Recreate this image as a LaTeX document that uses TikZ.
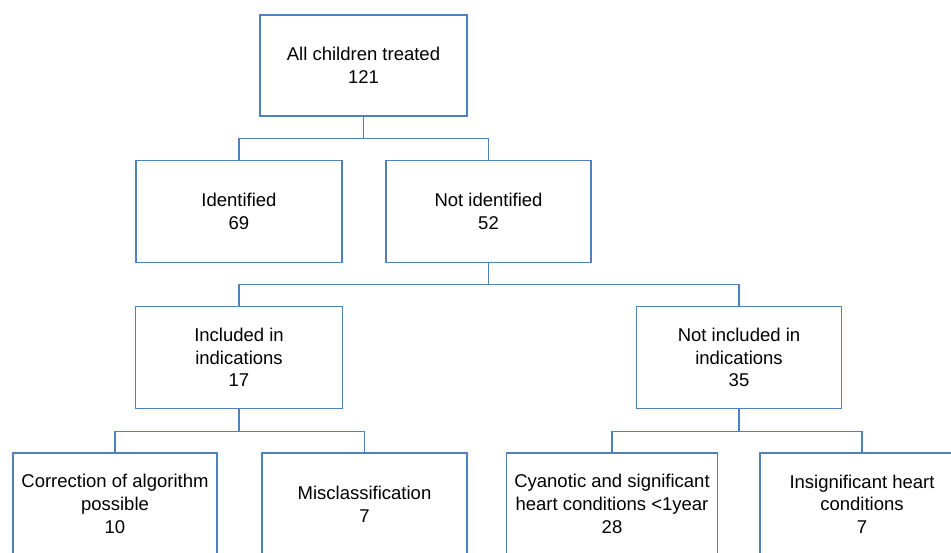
\documentclass[tikz,border=0pt]{standalone}
\usepackage{fontspec}
\setmainfont{Liberation Sans}
\definecolor{boxblue}{HTML}{4F81BD}
\begin{document}
\begin{tikzpicture}[x=1pt,y=-1pt,
  box/.style={draw=boxblue, line width=1.3pt, fill=white, inner sep=0pt, minimum width=206pt, minimum height=102pt, align=center, font=\fontsize{18.5}{22.7}\selectfont},
  conn/.style={draw=boxblue, line width=1.3pt}]
\useasboundingbox (0,0) rectangle (951,552);
\clip (0,0) rectangle (951,552);
\node[box, minimum width=207pt, minimum height=101pt] (top) at (363.5,65.5) {All children treated\\121};
\node[box] (ident) at (239,211.5) {Identified\\69};
\node[box, minimum width=205pt] (notid) at (488.5,211.5) {Not identified\\52};
\node[box, minimum width=207pt] (incl) at (239,357.5) {Included in\\indications\\17};
\node[box, minimum width=205pt] (notincl) at (739,357.5) {Not included in\\indications\\35};
\node[box, minimum width=204pt] (corr) at (115,504) {Correction of algorithm\\possible\\10};
\node[box, minimum width=205pt] (mis) at (364.5,504) {Misclassification\\7};
\node[box, minimum width=211pt] (cyan) at (612,504) {Cyanotic and significant\\heart conditions <1year\\28};
\node[box, minimum width=204pt] (insig) at (862,504) {Insignificant heart\\conditions\\7};
\draw[conn] (top.south) -- ++(0,22) coordinate (b1);
\draw[conn] (b1) -| (ident.north);
\draw[conn] (b1) -| (notid.north);
\draw[conn] (notid.south) -- ++(0,21.5) coordinate (b2);
\draw[conn] (b2) -| (incl.north);
\draw[conn] (b2) -| (notincl.north);
\draw[conn] (incl.south) -- ++(0,22) coordinate (b3);
\draw[conn] (b3) -| (corr.north);
\draw[conn] (b3) -| (mis.north);
\draw[conn] (notincl.south) -- ++(0,22) coordinate (b4);
\draw[conn] (b4) -| (cyan.north);
\draw[conn] (b4) -| (insig.north);
\end{tikzpicture}
\end{document}
